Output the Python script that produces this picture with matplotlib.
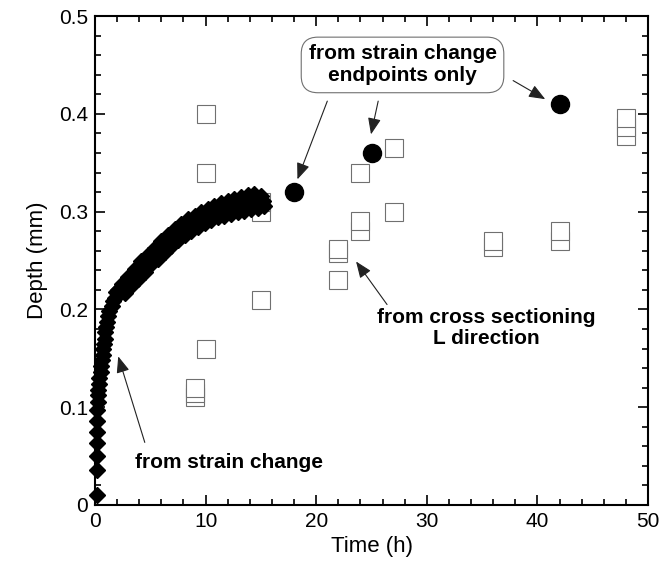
import matplotlib
matplotlib.use("Agg")
import matplotlib.pyplot as plt
from matplotlib.ticker import MultipleLocator

plt.rcParams["font.family"] = ["Liberation Sans", "DejaVu Sans"]

# strain change curve (upper edge, middle, lower edge of the band)
strain_t = [0.2, 0.2, 0.2, 0.2, 0.2, 0.2, 0.2,
            0.25, 0.3, 0.3, 0.4, 0.4, 0.5, 0.5, 0.6, 0.7, 0.7, 0.8, 0.9, 0.9,
            1.0, 1.1, 1.2, 1.3, 1.5, 1.6, 1.8, 1.9, 2.1, 2.25,
            2.4, 2.55, 2.7, 2.85, 3.0, 3.15, 3.3, 3.45, 3.6, 3.75, 3.9, 4.05,
            4.2, 4.35, 4.5, 4.65, 4.8, 4.95, 5.1, 5.25, 5.4, 5.55, 5.7, 5.85,
            6.0, 6.15, 6.3, 6.45, 6.6, 6.75, 6.9, 7.05, 7.2, 7.35, 7.5, 7.65,
            7.8, 7.95, 8.1, 8.25, 8.4, 8.55, 8.7, 8.85, 9.0, 9.15, 9.3, 9.45,
            9.6, 9.75, 9.9, 10.05, 10.2, 10.35, 10.5, 10.65, 10.8, 10.95,
            11.1, 11.25, 11.4, 11.55, 11.7, 11.85, 12.0, 12.15, 12.3, 12.45,
            12.6, 12.75, 12.9, 13.05, 13.2, 13.35, 13.5, 13.65, 13.8, 13.95,
            14.1, 14.25, 14.4, 14.55, 14.7, 14.85, 15.0, 15.15, 15.3]
strain_depth = [0.010, 0.036, 0.050, 0.063, 0.075, 0.086, 0.097,
                0.105, 0.112, 0.118, 0.124, 0.130, 0.136, 0.142, 0.148, 0.153,
                0.160, 0.165, 0.170, 0.177, 0.182, 0.187, 0.193, 0.198, 0.203,
                0.209, 0.212, 0.218, 0.220, 0.221,
                0.226, 0.222, 0.217, 0.226, 0.233, 0.229, 0.225, 0.233, 0.241,
                0.237, 0.231, 0.240, 0.249, 0.244, 0.238, 0.247, 0.256, 0.251,
                0.246, 0.254, 0.263, 0.258, 0.252, 0.261, 0.270, 0.264, 0.259,
                0.268, 0.276, 0.270, 0.265, 0.273, 0.282, 0.276, 0.271, 0.279,
                0.287, 0.281, 0.276, 0.284, 0.292, 0.286, 0.280, 0.288, 0.296,
                0.290, 0.284, 0.292, 0.300, 0.294, 0.288, 0.296, 0.303, 0.297,
                0.291, 0.299, 0.306, 0.300, 0.294, 0.302, 0.309, 0.303, 0.296,
                0.304, 0.311, 0.305, 0.298, 0.306, 0.313, 0.307, 0.300, 0.307,
                0.315, 0.308, 0.301, 0.309, 0.317, 0.310, 0.303, 0.311, 0.318,
                0.311, 0.304, 0.311, 0.316, 0.311, 0.306]

# endpoints only
end_t = [18, 25, 42]
end_depth = [0.32, 0.36, 0.41]

# cross sectioning, L direction
cross_t = [9, 9, 9, 10, 10, 10, 15, 15, 15, 22, 22, 22, 24, 24, 24,
           27, 27, 36, 36, 42, 42, 48, 48, 48]
cross_depth = [0.11, 0.115, 0.12, 0.40, 0.34, 0.16, 0.30, 0.31, 0.21,
               0.23, 0.258, 0.262, 0.34, 0.28, 0.29, 0.365, 0.30,
               0.264, 0.27, 0.27, 0.28, 0.377, 0.387, 0.396]

fig = plt.figure(figsize=(6.62, 5.73), dpi=100)
ax = fig.add_axes([0.1435, 0.1187, 0.8355, 0.8533])

ax.plot(cross_t, cross_depth, "s", ms=13, mfc="white", mec="#707070",
        mew=0.8, ls="none", zorder=2)
ax.plot(strain_t, strain_depth, "D", ms=8, color="black", ls="none",
        zorder=3, clip_on=False)
ax.plot(end_t, end_depth, "o", ms=13, color="black", ls="none", zorder=4)

ax.set_xlim(0, 50)
ax.set_ylim(0, 0.5)
ax.xaxis.set_major_locator(MultipleLocator(10))
ax.xaxis.set_minor_locator(MultipleLocator(2))
ax.yaxis.set_minor_locator(MultipleLocator(0.02))
ax.set_yticks([0, 0.1, 0.2, 0.3, 0.4, 0.5])
ax.set_yticklabels(["0", "0.1", "0.2", "0.3", "0.4", "0.5"])
ax.tick_params(which="both", direction="in", top=True, right=True,
               labelsize=15, width=1.2)
ax.tick_params(which="major", length=7, pad=5)
ax.tick_params(which="minor", length=4)
for s in ax.spines.values():
    s.set_linewidth(1.5)

ax.set_xlabel("Time (h)", fontsize=16, labelpad=4)
ax.set_ylabel("Depth (mm)", fontsize=16, labelpad=8)

arrow = dict(arrowstyle="-|>,head_length=1.0,head_width=0.4",
             color="#222222", lw=0.8, shrinkA=0, shrinkB=0)

ax.text(3.6, 0.043, "from strain change", fontsize=15, fontweight="bold",
        ha="left", va="center")
ax.annotate("", xy=(2.1, 0.152), xytext=(4.5, 0.064), arrowprops=arrow)

ax.text(35.4, 0.181, "from cross sectioning\nL direction", fontsize=15,
        fontweight="bold", ha="center", va="center", linespacing=1.1)
ax.annotate("", xy=(23.6, 0.249), xytext=(26.4, 0.205), arrowprops=arrow)

ax.text(27.8, 0.450, "from strain change\nendpoints only", fontsize=15,
        fontweight="bold", ha="center", va="center", linespacing=1.2,
        bbox=dict(boxstyle="round,pad=0.35,rounding_size=0.8",
                  fc="white", ec="#707070", lw=0.8), zorder=5)
ax.annotate("", xy=(18.3, 0.333), xytext=(21.0, 0.413), arrowprops=arrow)
ax.annotate("", xy=(24.95, 0.379), xytext=(25.6, 0.413), arrowprops=arrow)
ax.annotate("", xy=(40.7, 0.415), xytext=(37.8, 0.434), arrowprops=arrow)

fig.savefig("out.png", dpi=100)
plt.close(fig)
